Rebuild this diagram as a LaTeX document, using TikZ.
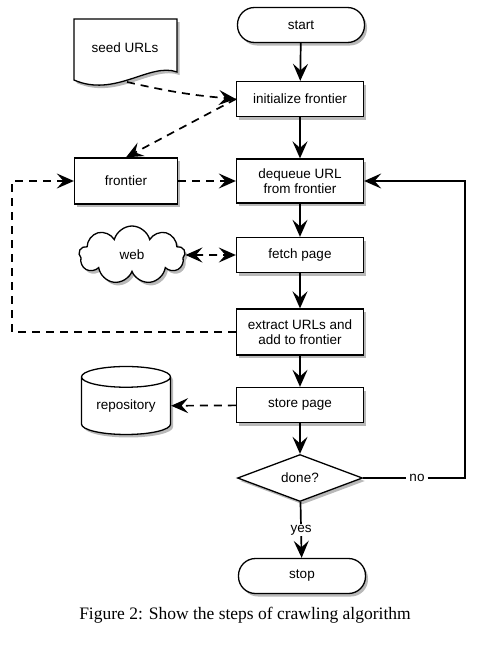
\documentclass[tikz,border=0pt]{standalone}
\usepackage{fontspec}
\setmainfont{Liberation Serif}
\setsansfont{Liberation Sans}
\usetikzlibrary{arrows.meta,shapes.geometric,shapes.symbols,shadows}

\tikzset{
  >={Stealth[length=17pt,width=15pt,inset=6.5pt]},
  shade/.style={drop shadow={shadow xshift=2.5pt,shadow yshift=-3pt,opacity=.55}},
  box/.style={draw,line width=1.3pt,fill=white,minimum width=127pt,minimum height=35pt,
    align=center,font=\sffamily\fontsize{13.5}{15}\selectfont,shade},
  term/.style={box,rounded corners=17pt},
  flow/.style={->,line width=1.7pt},
  feed/.style={flow,dash pattern=on 8pt off 6pt},
}

\begin{document}
\begin{tikzpicture}[x=1pt,y=-1pt]
\useasboundingbox[fill=white] (0,0) rectangle (493,645);
% main column
\node[term] (start) at (301,25) {start};
\node[box] (init) at (300,99) {initialize frontier};
\node[box,minimum height=44pt] (dequeue) at (300,181) {dequeue URL\\from frontier};
\node[box] (fetch) at (300,255) {fetch page};
\node[box,minimum height=46pt] (extract) at (300,332) {extract URLs and\\add to frontier};
\node[box] (store) at (300,405) {store page};
\node[box,shape=diamond,aspect=2.66,minimum width=125pt,minimum height=47pt,inner sep=1pt] (done) at (300,478) {done?};
\node[term] (stop) at (302,576) {stop};
% side objects
\draw[line width=1.3pt,fill=white,shade] (74,19) -- (177,19) -- (177,72)
  .. controls (150,62) and (115,98) .. (74,80) -- cycle;
\node[font=\sffamily\fontsize{13.5}{15}\selectfont] (seed) at (125,48) {seed URLs};
\coordinate (seedbot) at (127,82);
\node[box,minimum width=103pt,minimum height=46pt] (frontier) at (126,181) {frontier};
\node[box,shape=cloud,cloud puffs=9,aspect=1.9,minimum width=106pt,minimum height=58pt,inner sep=0pt] (web) at (132,255) {web};
\node[box,shape=cylinder,shape border rotate=90,aspect=0.35,minimum width=89pt,minimum height=68pt,inner sep=0pt] (repo) at (126,406) {repository};
% solid flow
\draw[flow] (start) -- (init);
\draw[flow] (init) -- (dequeue);
\draw[flow] (dequeue) -- (fetch);
\draw[flow] (fetch) -- (extract);
\draw[flow] (extract) -- (store);
\draw[flow] (store) -- (done);
\draw[flow] (done) -- node[fill=white,inner sep=1pt,font=\sffamily\fontsize{13.5}{15}\selectfont] {yes} (stop);
\node[font=\sffamily\fontsize{13.5}{15}\selectfont,inner sep=3pt] (no) at (417,478) {no};
\coordinate (loop) at (465,478);
\draw[line width=1.7pt] (done.east) -- (no);
\draw[flow] (no) -- (loop) |- (dequeue.east);
% dashed flow
\draw[feed] (seedbot) to[bend right=4] (init.west);
\draw[feed] (init.west) -- (frontier.north);
\draw[feed] (frontier) -- (dequeue);
\draw[feed,<->] (web) -- (fetch);
\draw[feed] (store) -- (repo);
\coordinate (back) at (12,332);
\draw[feed] (extract.west) -- (back) |- (frontier.west);
% caption
\node[font=\fontsize{17.5}{20}\selectfont] (caption) at (245,615) {Figure 2: Show the steps of crawling algorithm};
\end{tikzpicture}
\end{document}
